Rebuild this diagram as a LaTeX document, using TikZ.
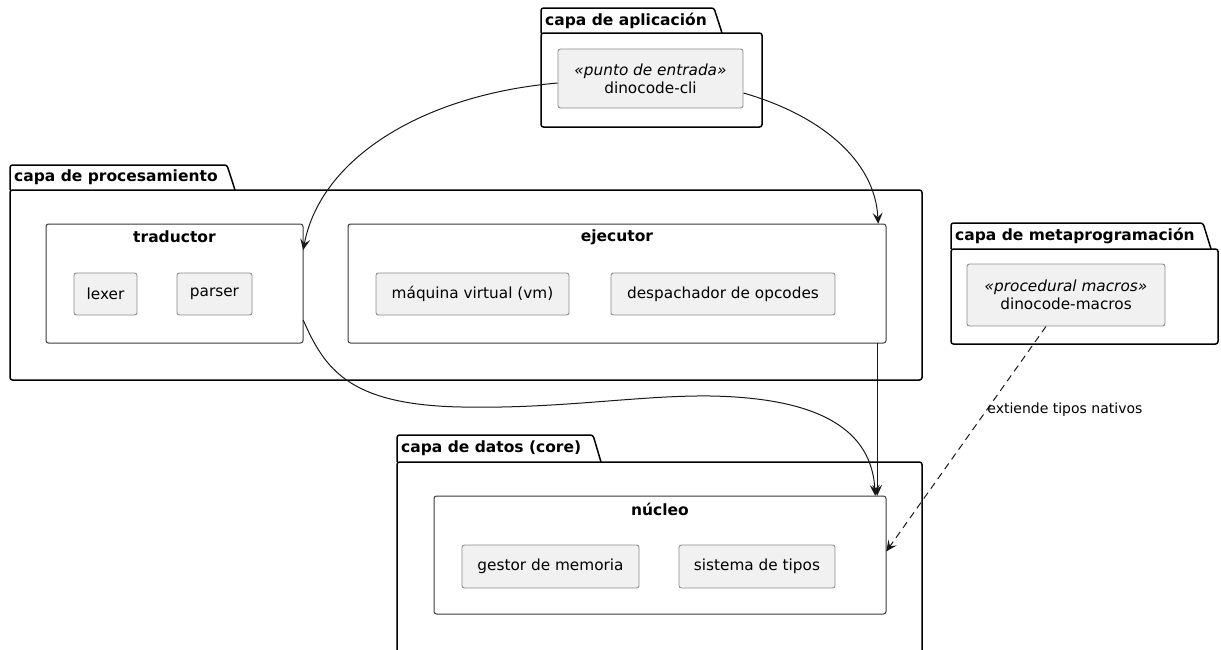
\documentclass[tikz,border=0pt]{standalone}
\usepackage{fontspec}
\setmainfont{DejaVu Sans}
\usetikzlibrary{arrows.meta,calc}

\definecolor{compfill}{HTML}{F1F1F1}
\definecolor{compline}{HTML}{8C8C8C}
\definecolor{grpline}{HTML}{3A3A3A}
\definecolor{inkline}{HTML}{181818}

\tikzset{
  pkg/.style={draw=black, line width=1.5pt, rounded corners=2.5pt},
  pkgtitle/.style={anchor=west, inner sep=0pt, font=\fontsize{15.5}{18}\selectfont\bfseries},
  grp/.style={draw=grpline, line width=1pt, rounded corners=2.5pt, fill=white},
  grptitle/.style={inner sep=0pt, font=\fontsize{15.5}{18}\selectfont\bfseries},
  comp/.style={draw=compline, line width=0.9pt, fill=compfill, rounded corners=2.5pt,
    align=center, inner sep=0pt, font=\fontsize{15.3}{18}\selectfont},
  link/.style={draw=inkline, line width=1pt, -{Stealth[length=11pt,width=10pt,inset=4.5pt]}},
  dashlink/.style={link, dash pattern=on 7pt off 5pt},
  lbl/.style={inner sep=0pt, font=\fontsize{14}{16}\selectfont}
}

% folder-shaped package: left, tab top, tab right, body top, right, bottom
\newcommand\pkgfolder[6]{%
  \draw[pkg] (#1,#4) -- (#1,#2) -- (#3,#2) -- ($(#3,#4)+(8,0)$);
  \draw[pkg] (#1,#4) rectangle (#5,#6);
}

\begin{document}
\begin{tikzpicture}[x=1pt, y=-1pt]
  \useasboundingbox (0,0) rectangle (1221,649);
  \clip (0,0) rectangle (1221,649);

  % packages
  \pkgfolder{541}{8}{714}{33}{762}{127}
  \node[pkgtitle] (tApp) at (545,20.5) {capa de aplicación};

  \pkgfolder{10}{165}{227}{190}{922}{380}
  \node[pkgtitle] (tProc) at (14,177.5) {capa de procesamiento};

  \pkgfolder{951}{223}{1203}{249}{1218}{344}
  \node[pkgtitle] (tMeta) at (955,236) {capa de metaprogramación};

  \pkgfolder{397}{435}{593}{462}{922}{700}
  \node[pkgtitle] (tData) at (401,448.5) {capa de datos (core)};

  % inner groups
  \draw[grp] (46,224) rectangle (303,343);
  \node[minimum width=257pt, minimum height=119pt, inner sep=0pt] (trad) at (174.5,283.5) {};
  \node[grptitle] (tTrad) at (174.5,237) {traductor};

  \draw[grp] (348,224) rectangle (886,343);
  \node[minimum width=538pt, minimum height=119pt, inner sep=0pt] (ejec) at (617,283.5) {};
  \node[grptitle] (tEjec) at (617,237) {ejecutor};

  \draw[grp] (434,496) rectangle (886,614);
  \node[minimum width=452pt, minimum height=118pt, inner sep=0pt] (nuc) at (660,555) {};
  \node[grptitle] (tNuc) at (660,509) {núcleo};

  % components
  \node[comp, minimum width=185pt, minimum height=59pt] (cli) at (650.5,78.5)
    {\textit{«punto de entrada»}\\dinocode-cli};
  \node[comp, minimum width=63pt, minimum height=42pt] (lexer) at (105.5,294) {lexer};
  \node[comp, minimum width=75pt, minimum height=42pt] (parser) at (214.5,294) {parser};
  \node[comp, minimum width=193pt, minimum height=42pt] (vm) at (472.5,294) {máquina virtual (vm)};
  \node[comp, minimum width=224pt, minimum height=42pt] (disp) at (723,294) {despachador de opcodes};
  \node[comp, minimum width=198pt, minimum height=62pt] (macros) at (1066,295)
    {\textit{«procedural macros»}\\dinocode-macros};
  \node[comp, minimum width=177pt, minimum height=43pt] (mem) at (550.5,566.5) {gestor de memoria};
  \node[comp, minimum width=156pt, minimum height=43pt] (types) at (757,566.5) {sistema de tipos};

  % connectors
  \draw[link] ([yshift=-4.5pt]cli.west) .. controls (420,95) and (320,160) .. ([yshift=33.5pt]trad.east);
  \draw[link] ([yshift=-14.5pt]cli.east) .. controls (820,115) and (875,160) .. ([xshift=-8pt]ejec.north east);
  \draw[link] ([xshift=-9pt]ejec.south east) -- ([xshift=-9pt]nuc.north east);
  \draw[link] ([yshift=-36.5pt]trad.east) .. controls (325,370) and (350,405) .. (462,407)
    .. controls (560,409) and (640,395) .. (711,396)
    .. controls (820,398) and (872,430) .. ([xshift=-11pt]nuc.north east);
  \draw[dashlink] ([xshift=-20pt]macros.south) -- ([yshift=3.5pt]nuc.east)
    node[lbl, pos=0.37, anchor=west, xshift=0pt] (ext) {extiende tipos nativos};
\end{tikzpicture}
\end{document}
